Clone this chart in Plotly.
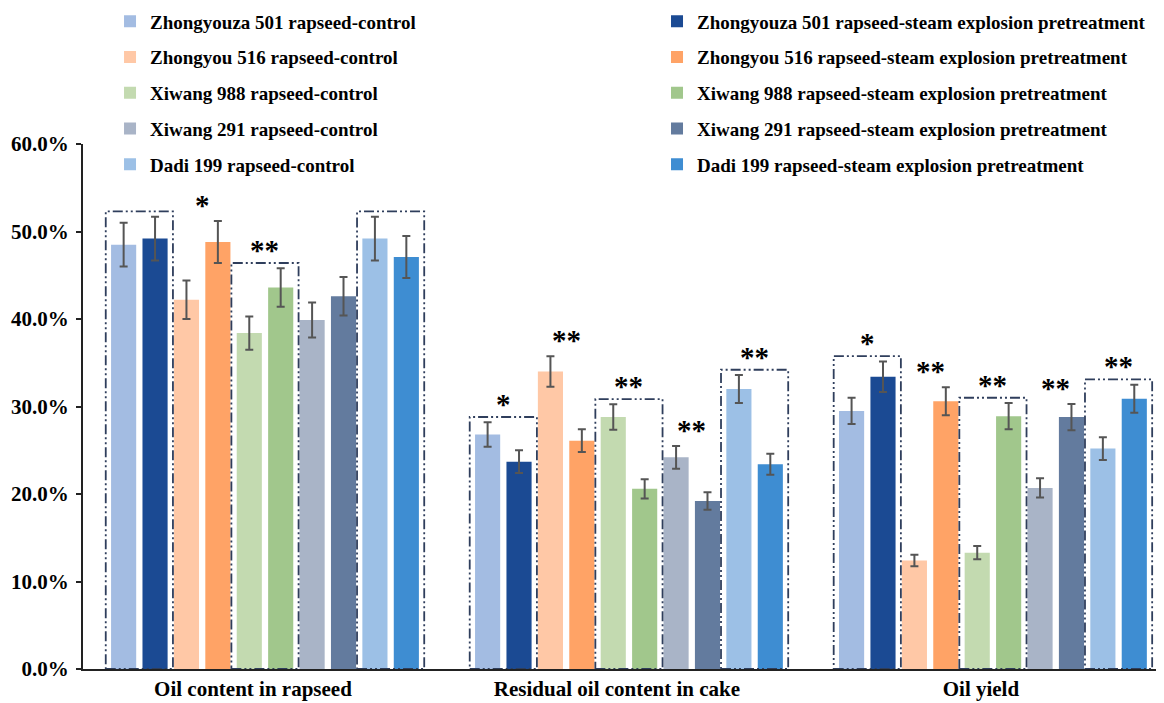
import plotly.graph_objects as go

categories = ["Oil content in rapseed", "Residual oil content in cake", "Oil yield"]

series_names = [
    "Zhongyouza 501 rapseed-control",
    "Zhongyouza 501 rapseed-steam explosion pretreatment",
    "Zhongyou 516 rapseed-control",
    "Zhongyou 516 rapseed-steam explosion pretreatment",
    "Xiwang 988 rapseed-control",
    "Xiwang 988 rapseed-steam explosion pretreatment",
    "Xiwang 291 rapseed-control",
    "Xiwang 291 rapseed-steam explosion pretreatment",
    "Dadi 199 rapseed-control",
    "Dadi 199 rapseed-steam explosion pretreatment",
]

# values in percent, per category
zy501_control = [48.5, 26.8, 29.5]
zy501_steam = [49.2, 23.7, 33.4]
zy516_control = [42.2, 34.0, 12.4]
zy516_steam = [48.8, 26.1, 30.6]
xw988_control = [38.4, 28.8, 13.3]
xw988_steam = [43.6, 20.6, 28.9]
xw291_control = [39.9, 24.2, 20.7]
xw291_steam = [42.6, 19.2, 28.8]
dd199_control = [49.2, 32.0, 25.2]
dd199_steam = [47.1, 23.4, 30.9]

zy501_control_err = [2.5, 1.4, 1.5]
zy501_steam_err = [2.5, 1.3, 1.75]
zy516_control_err = [2.2, 1.75, 0.65]
zy516_steam_err = [2.4, 1.3, 1.6]
xw988_control_err = [1.9, 1.45, 0.75]
xw988_steam_err = [2.2, 1.1, 1.5]
xw291_control_err = [2.0, 1.3, 1.1]
xw291_steam_err = [2.2, 1.0, 1.5]
dd199_control_err = [2.5, 1.6, 1.3]
dd199_steam_err = [2.4, 1.2, 1.6]

# significance per category, per variety pair
significance = [
    ["", "*", "**", "", ""],
    ["*", "**", "**", "**", "**"],
    ["*", "**", "**", "**", "**"],
]
boxed = [
    [True, False, True, False, True],
    [True, False, True, False, True],
    [True, False, True, False, True],
]

y_ticks = [0, 10, 20, 30, 40, 50, 60]

all_values = [zy501_control, zy501_steam, zy516_control, zy516_steam,
              xw988_control, xw988_steam, xw291_control, xw291_steam,
              dd199_control, dd199_steam]
all_errs = [zy501_control_err, zy501_steam_err, zy516_control_err, zy516_steam_err,
            xw988_control_err, xw988_steam_err, xw291_control_err, xw291_steam_err,
            dd199_control_err, dd199_steam_err]

colors = ["#A3BCE2", "#1B4A93", "#FFC8A6", "#FFA366", "#C3DAB0",
          "#A1C78C", "#A9B4C7", "#637B9E", "#9CC0E6", "#3E8DD2"]

FONT = "Liberation Serif"
BARGAP = 0.137
GROUPGAP = 0.2
N = len(series_names)

fig = go.Figure()
xs = list(range(len(categories)))
for i in range(N):
    fig.add_trace(go.Bar(
        x=xs, y=all_values[i], name=series_names[i],
        marker=dict(color=colors[i], line=dict(width=0)),
        error_y=dict(type="data", array=all_errs[i], visible=True,
                     color="#555555", thickness=2, width=4),
        legend="legend" if i % 2 == 0 else "legend2",
        legendgroup=series_names[i],
    ))

slot = (1 - BARGAP) / N
pad = 0.006
for gi in range(len(categories)):
    for p in range(5):
        a, b = 2 * p, 2 * p + 1
        top = max(all_values[a][gi] + all_errs[a][gi], all_values[b][gi] + all_errs[b][gi])
        x0 = gi - (1 - BARGAP) / 2 + a * slot - pad
        x1 = gi - (1 - BARGAP) / 2 + (b + 1) * slot + pad
        base = top
        shift = 16
        if boxed[gi][p]:
            box_top = top + 0.6
            base = box_top
            shift = 13
            fig.add_shape(type="rect", x0=x0, x1=x1, y0=0, y1=box_top,
                          xref="x", yref="y",
                          line=dict(color="#2F3E5C", width=1.8,
                                    dash="10px,3px,2px,3px,2px,3px"))
        if significance[gi][p]:
            fig.add_annotation(x=(x0 + x1) / 2, y=base, xref="x", yref="y",
                               text="<b>" + significance[gi][p] + "</b>",
                               showarrow=False, yanchor="middle", yshift=shift,
                               font=dict(family=FONT, size=29, color="black"))

legend_font = dict(family=FONT, size=19, color="black", weight="bold")
fig.update_layout(
    width=1156, height=695,
    margin=dict(l=75, r=0, t=136, b=34, autoexpand=False),
    paper_bgcolor="white", plot_bgcolor="white",
    barmode="group", bargap=BARGAP, bargroupgap=GROUPGAP,
    font=dict(family=FONT, size=17, color="black"),
    legend=dict(x=0.025, y=1.2695, xanchor="left", yanchor="top",
                tracegroupgap=8, itemwidth=30, font=legend_font,
                bgcolor="rgba(0,0,0,0)"),
    legend2=dict(x=0.531, y=1.2695, xanchor="left", yanchor="top",
                 tracegroupgap=8, itemwidth=30, font=legend_font,
                 bgcolor="rgba(0,0,0,0)"),
    xaxis=dict(tickvals=xs, ticktext=["<b>" + c + "</b>" for c in categories],
               range=[-0.5, 2.47], showline=True, linecolor="#222222", linewidth=2,
               ticks="", showgrid=False, zeroline=False, ticklabelshift=-12,
               tickfont=dict(family=FONT, size=21, color="black")),
    yaxis=dict(range=[0, 60], tickvals=y_ticks,
               ticktext=["<b>%.1f%%</b>" % t for t in y_ticks],
               showline=True, linecolor="#222222", linewidth=2,
               ticks="outside", ticklen=5, tickwidth=2, tickcolor="#222222",
               ticklabelstandoff=3,
               showgrid=False, zeroline=False,
               tickfont=dict(family=FONT, size=21, color="black")),
)

fig.write_html("out.html")
